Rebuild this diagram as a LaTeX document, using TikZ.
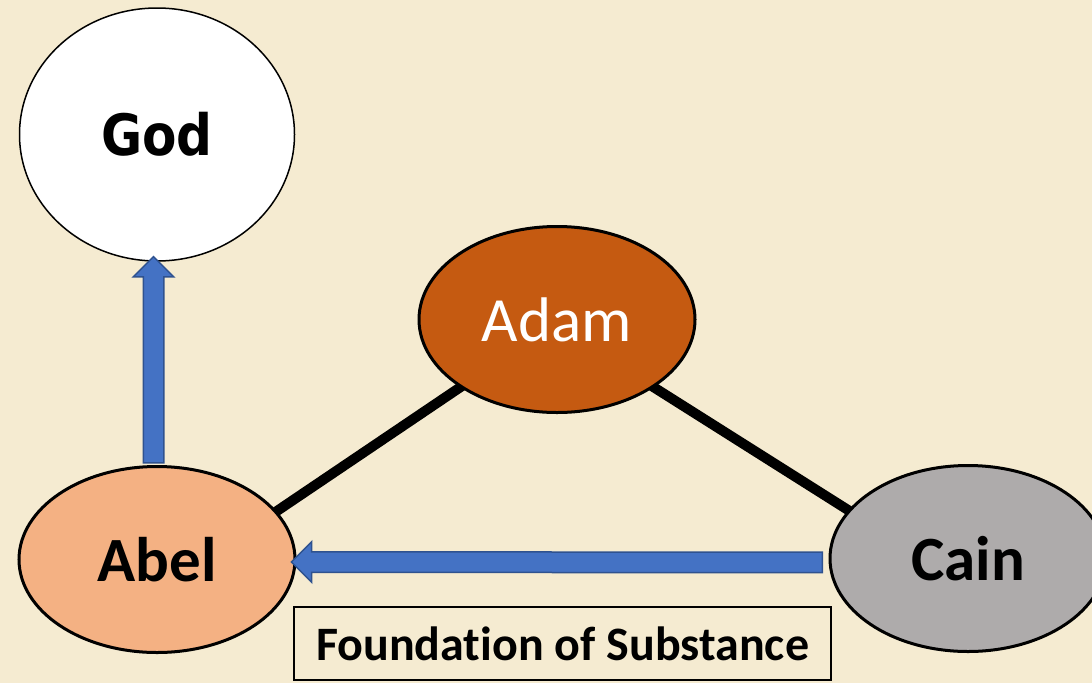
\documentclass[tikz,border=0pt]{standalone}
\usepackage{fontspec}
\setmainfont{Carlito}[Ligatures=NoCommon]
\newfontfamily\godfont{DejaVu Sans}[FakeStretch=0.88]
\usetikzlibrary{calc,shapes.geometric,shapes.arrows,backgrounds}
\definecolor{paper}{HTML}{F5EBD1}
\definecolor{adamfill}{HTML}{C55A11}
\definecolor{abelfill}{HTML}{F4B183}
\definecolor{cainfill}{HTML}{AEABAB}
\definecolor{arrowblue}{HTML}{4472C4}
\definecolor{arrowedge}{HTML}{2F528F}

% block arrow from one named coordinate to another
\newcommand{\blockarrow}[2]{%
    \path let \p1=(#1), \p2=(#2),
        \n1={veclen(\x2-\x1,\y2-\y1)}, \n2={atan2(\y2-\y1,\x2-\x1)} in
        node[fatarrow, minimum height=\n1, rotate=\n2] at ($(#1)!0.5!(#2)$) {};%
}

\begin{document}
\begin{tikzpicture}[x=1pt,y=-1pt]
    \tikzset{
        person/.style={ellipse, draw=black, line width=3pt,
            minimum width=276pt, minimum height=186pt, inner sep=0pt,
            font=\fontsize{63}{70}\selectfont\bfseries},
        bond/.style={line width=10pt},
        fatarrow/.style={single arrow, fill=arrowblue, draw=arrowedge,
            line width=1.5pt, inner xsep=0pt, inner ysep=9.5pt,
            single arrow head extend=10pt, anchor=center},
        labelbox/.style={draw=black, line width=2pt, fill=paper,
            minimum width=537pt, minimum height=73pt, inner sep=0pt,
            font=\fontsize{48}{54}\selectfont\bfseries}
    }
    \useasboundingbox (0,0) rectangle (1092,683);

    \node[person, fill=white, line width=1.5pt, minimum width=275pt,
        minimum height=253pt, font=\godfont\fontsize{57}{64}\selectfont\bfseries]
        (god) at (157,134.5) {God};
    \node[person, fill=adamfill, text=white, font=\fontsize{63}{70}\selectfont]
        (adam) at (557,319.5) {Adam};
    \node[person, fill=abelfill] (abel) at (157,559.5) {Abel};
    \node[person, fill=cainfill] (cain) at (968,558.5) {Cain};

    \node[labelbox] (fos) at (562.5,643.5) {Foundation of Substance};

    \begin{scope}[on background layer]
        \fill[paper] (0,0) rectangle (1092,683);
        \draw[bond] ($(adam.215)!-6pt!(abel.22)$) -- ($(abel.22)!-6pt!(adam.215)$);
        \draw[bond] ($(adam.325)!-6pt!(cain.158)$) -- ($(cain.158)!-6pt!(adam.325)$);
    \end{scope}

    \coordinate (abeltop) at ([xshift=-3.5pt, yshift=-3pt]abel.north);
    \coordinate (godbottom) at ([xshift=-3.5pt]god.south);
    \coordinate (cainside) at ([xshift=-1pt, yshift=-4pt]cain.west);
    \coordinate (abelside) at ([yshift=-2.5pt]abel.east);
    \blockarrow{abeltop}{godbottom}
    \blockarrow{cainside}{abelside}
\end{tikzpicture}
\end{document}
